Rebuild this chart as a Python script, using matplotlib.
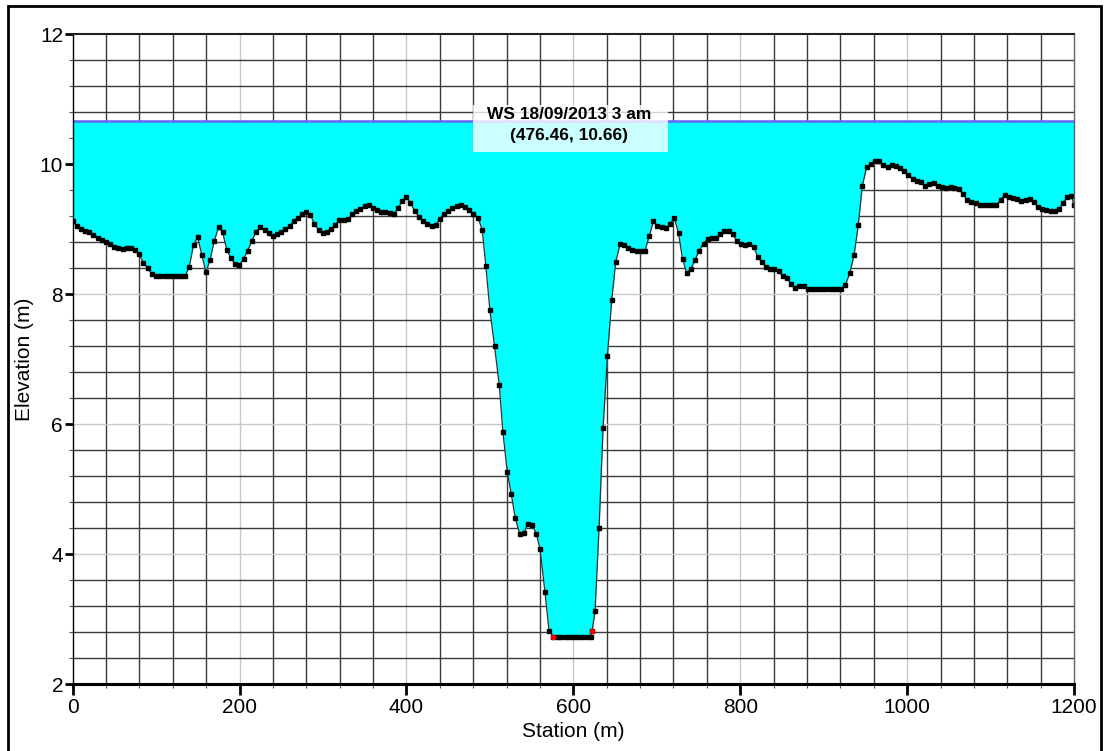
import matplotlib
matplotlib.use("Agg")
import matplotlib.pyplot as plt
from matplotlib.patches import Rectangle
import numpy as np

plt.rcParams['font.family'] = ['Liberation Sans', 'DejaVu Sans']

# Cross-section survey: station (m) and ground elevation (m)
station = [
    0, 4.8, 10, 14.8, 20, 24.8, 30, 34.8, 40, 44.8, 50, 54.7, 60, 64.8, 70, 74.8,
    79.6, 84.8, 90, 94.8, 100, 104.8, 110, 114.8, 120, 124.8, 130, 134.8, 139.6,
    144.8, 149.6, 154.8, 159.6, 164.4, 169.6, 174.8, 179.6, 184.8, 189.6, 194.8,
    199.6, 204.7, 209.5, 214.8, 219.6, 224.8, 229.9, 234.7, 240, 244.8, 250,
    254.8, 260, 264.8, 270, 274.8, 280, 284.8, 289.6, 294.7, 300, 304.8, 309.6,
    314.8, 319.6, 324.7, 330, 334.8, 340, 344.8, 350, 354.8, 360, 364.8, 370,
    374.8, 380, 384.8, 390, 394.8, 400, 404.8, 410, 414.8, 420, 424.8, 430,
    434.8, 440, 444.8, 450, 454.8, 460, 464.8, 470, 474.8, 480, 485.6, 490.8,
    495.1, 499.9, 505.5, 511.2, 515.5, 520.8, 525.6, 530.4, 535.6, 540.4, 545.5,
    550.8, 555.6, 560, 566, 570.8, 576, 581, 585.6, 590.8, 596, 600.8, 606,
    610.8, 616, 620.8, 622.5, 626, 630.8, 635.6, 640.8, 646, 650.8, 656, 660.8,
    666, 670.8, 676, 680.8, 685.6, 690.8, 696, 700.8, 706, 710.8, 716, 720.8,
    726, 730.8, 736, 740.8, 745.9, 750.7, 756, 760.8, 766, 770.8, 775.9, 780.7,
    786, 790.8, 796, 800.8, 805.9, 810.7, 816, 820.8, 826, 830.8, 836, 840.8,
    846, 850.8, 856, 860.8, 865.9, 870.7, 876, 880.8, 886, 890.8, 896, 900.8,
    906, 910.8, 916, 920.8, 925.9, 931.2, 936.4, 941.5, 946.3, 951.6, 956.8,
    961.6, 966.7, 971.5, 976.8, 981.6, 986.8, 991.6, 996.8, 1001.5, 1006.8,
    1011.6, 1016.8, 1022, 1026.8, 1032, 1036.8, 1042, 1046.8, 1052, 1056.7,
    1062, 1066.8, 1072, 1076.8, 1082, 1086.8, 1092, 1096.8, 1102, 1106.8, 1112,
    1116.8, 1122, 1126.8, 1132, 1136.8, 1142, 1146.8, 1152, 1156.8, 1162,
    1166.8, 1172, 1176.8, 1182, 1186.8, 1192, 1196.8, 1200,
]
elevation = [
    9.12, 9.05, 9.01, 8.98, 8.95, 8.91, 8.87, 8.84, 8.80, 8.77, 8.73, 8.71, 8.70,
    8.71, 8.71, 8.68, 8.62, 8.48, 8.40, 8.31, 8.28, 8.28, 8.28, 8.28, 8.28, 8.28,
    8.28, 8.28, 8.42, 8.76, 8.88, 8.60, 8.34, 8.52, 8.82, 9.03, 8.95, 8.68, 8.55,
    8.46, 8.45, 8.54, 8.67, 8.82, 8.96, 9.03, 8.99, 8.94, 8.90, 8.93, 8.96, 9.00,
    9.05, 9.12, 9.18, 9.23, 9.27, 9.22, 9.08, 8.99, 8.94, 8.96, 9.01, 9.07, 9.14,
    9.14, 9.15, 9.23, 9.28, 9.31, 9.36, 9.38, 9.32, 9.30, 9.27, 9.26, 9.25, 9.24,
    9.32, 9.44, 9.49, 9.40, 9.28, 9.19, 9.12, 9.08, 9.05, 9.07, 9.15, 9.24, 9.28,
    9.32, 9.36, 9.38, 9.34, 9.30, 9.24, 9.18, 8.99, 8.43, 7.76, 7.20, 6.60, 5.88,
    5.26, 4.92, 4.55, 4.31, 4.32, 4.47, 4.44, 4.31, 4.08, 3.41, 2.82, 2.73, 2.73,
    2.73, 2.73, 2.73, 2.73, 2.73, 2.73, 2.73, 2.73, 2.82, 3.12, 4.40, 5.94, 7.05,
    7.91, 8.50, 8.77, 8.76, 8.71, 8.68, 8.66, 8.66, 8.66, 8.89, 9.12, 9.05, 9.04,
    9.02, 9.08, 9.18, 8.94, 8.54, 8.32, 8.39, 8.53, 8.67, 8.78, 8.85, 8.86, 8.87,
    8.93, 8.98, 8.98, 8.92, 8.82, 8.77, 8.75, 8.78, 8.73, 8.58, 8.49, 8.42, 8.39,
    8.39, 8.35, 8.28, 8.25, 8.16, 8.09, 8.12, 8.12, 8.08, 8.08, 8.08, 8.08, 8.08,
    8.08, 8.08, 8.08, 8.08, 8.14, 8.32, 8.60, 9.07, 9.67, 9.96, 10.00, 10.05,
    10.05, 9.99, 9.96, 9.99, 9.97, 9.95, 9.90, 9.84, 9.77, 9.75, 9.72, 9.67, 9.69,
    9.71, 9.67, 9.65, 9.63, 9.65, 9.64, 9.62, 9.54, 9.45, 9.42, 9.40, 9.37, 9.37,
    9.37, 9.37, 9.37, 9.45, 9.53, 9.50, 9.48, 9.46, 9.44, 9.45, 9.47, 9.42, 9.34,
    9.31, 9.30, 9.28, 9.28, 9.31, 9.40, 9.49, 9.51, 9.37,
]

# Bank stations
bank_station = [576, 622.5]
bank_elevation = [2.73, 2.82]

# Water surface
ws_label = "WS 18/09/2013 3 am"
ws_elevation = 10.66
ws_probe_station = 476.46

x_ticks = [0, 200, 400, 600, 800, 1000, 1200]
y_ticks = [2, 4, 6, 8, 10, 12]

fig = plt.figure(figsize=(11.07, 7.51), dpi=100)
ax = fig.add_axes([0.0657, 0.0892, 0.9045, 0.8651])

ax.set_xlim(0, 1200)
ax.set_ylim(2, 12)

# Grid: fine lines every 40 m / 0.4 m, lighter lines at labelled values
for gx in np.arange(40, 1200, 40):
    major = abs(gx % 200) < 1e-6
    ax.axvline(gx, color='#c8c8c8' if major else '#3a3a3a', lw=1.0, zorder=1)
for gy in np.arange(2.4, 12.0, 0.4):
    major = abs(round(gy, 1) % 2) < 1e-6
    ax.axhline(gy, color='#c8c8c8' if major else '#3a3a3a', lw=1.0, zorder=1)

st = np.array(station)
el = np.array(elevation)

# Water between ground and the water surface
ax.fill_between(st, el, ws_elevation, where=el < ws_elevation,
                color='#00ffff', lw=0, zorder=2)
ax.plot([st.min(), st.max()], [ws_elevation, ws_elevation],
        color='#6464ff', lw=1.8, zorder=3)

# Ground profile
ax.plot(st, el, color='#303030', lw=0.9, marker='s', ms=2.5,
        mfc='black', mec='black', zorder=4)
ax.plot(bank_station, bank_elevation, ls='none', marker='o', ms=3,
        mfc='red', mec='red', zorder=5)

# Water surface readout
box = Rectangle((479.6, 10.194), 234.4, 0.723, facecolor='white', alpha=0.8,
                edgecolor='none', zorder=6)
ax.add_patch(box)
ax.text(595.2, 10.605,
        f"{ws_label}\n({ws_probe_station:.2f}, {ws_elevation:.2f})",
        ha='center', va='center', fontsize=12.5, fontweight='bold',
        linespacing=1.45, zorder=7)

# Axes styling
ax.set_xticks(x_ticks)
ax.set_yticks(y_ticks)
ax.set_xticks(np.arange(0, 1201, 40), minor=True)
ax.set_yticks(np.arange(2, 12.01, 0.4), minor=True)
ax.tick_params(axis='x', which='major', length=8, width=2, direction='out',
               labelsize=15, pad=2)
ax.tick_params(axis='y', which='major', length=6, width=2, direction='out',
               labelsize=15, pad=1)
ax.tick_params(axis='x', which='minor', length=3, width=0.8, color='#555555')
ax.tick_params(axis='y', which='minor', length=3, width=0.8, color='#555555')

ax.spines['bottom'].set_linewidth(2.2)
ax.spines['left'].set_linewidth(1.0)
ax.spines['top'].set_linewidth(1.5)
ax.spines['top'].set_color('#202020')
ax.spines['right'].set_linewidth(1.0)
ax.spines['right'].set_color('#606060')
for s in ax.spines.values():
    s.set_zorder(8)

ax.set_xlabel("Station (m)", fontsize=15, labelpad=4)
ax.set_ylabel("Elevation (m)", fontsize=15, labelpad=4)

# Outer frame of the figure
frame = Rectangle((7.5 / 1107, -0.05), (1101 - 7.5) / 1107, 1.05 - 5.5 / 751,
                  transform=fig.transFigure, fill=False, edgecolor='black',
                  lw=2.0)
fig.add_artist(frame)

fig.savefig("out.png", dpi=100)
